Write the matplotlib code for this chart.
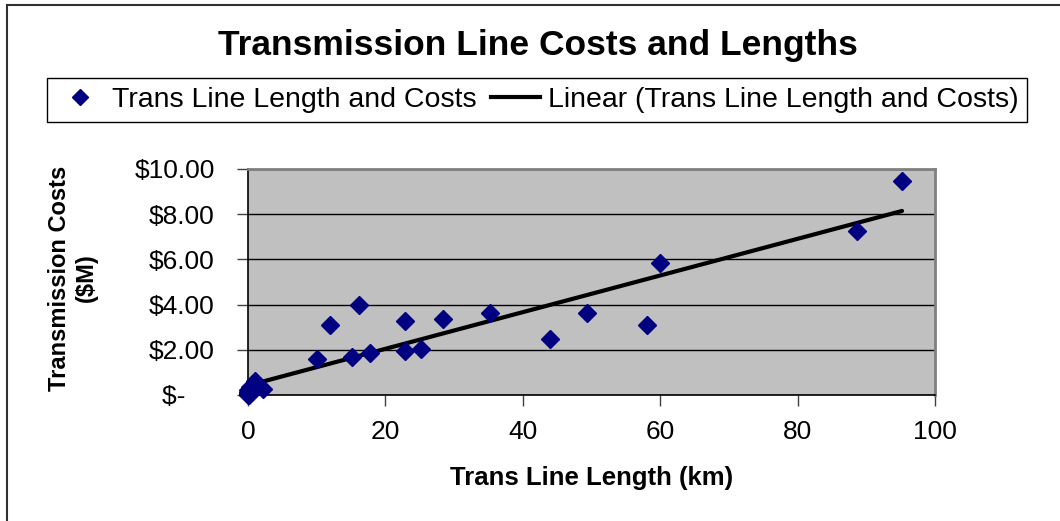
import matplotlib
matplotlib.use("Agg")
import matplotlib.pyplot as plt
from matplotlib.lines import Line2D
import numpy as np

plt.rcParams["font.family"] = ["Liberation Sans", "DejaVu Sans"]

# line length (km) vs cost ($M) (several short lines sit at the origin)
length_km = [0.0, 0.0, 0.1, 0.0, 0.2, 0.0, 0.0, 0.3, 1.0, 2.2, 10.0, 11.9, 15.2, 16.2,
             17.8, 22.9, 22.9, 25.2, 28.4, 35.2, 43.9, 49.4, 58.1, 60.0, 88.7, 95.2]
cost_musd = [0.0, 0.1, 0.05, 0.15, 0.0, 0.05, 0.2, 0.35, 0.6, 0.25, 1.58, 3.10, 1.70, 3.97,
             1.87, 3.26, 1.95, 2.04, 3.37, 3.63, 2.47, 3.63, 3.10, 5.83, 7.27, 9.48]

x_ticks = [0, 20, 40, 60, 80, 100]
y_ticks = [0, 2, 4, 6, 8, 10]
y_tick_labels = ["$-    ", "$2.00", "$4.00", "$6.00", "$8.00", "$10.00"]

W, H = 1060, 521
fig = plt.figure(figsize=(W / 100, H / 100), dpi=100)

ax = fig.add_axes([248 / W, 1 - 395 / H, (935 - 248) / W, (395 - 169) / H])
ax.set_facecolor("#C0C0C0")
ax.set_xlim(0, 100)
ax.set_ylim(0, 10)
ax.set_xticks(x_ticks)
ax.set_yticks(y_ticks)
ax.set_yticklabels(y_tick_labels)
ax.tick_params(axis="both", direction="out", length=8, width=1, colors="#404040",
               labelsize=19, labelcolor="black")
ax.tick_params(axis="x", pad=10)
ax.tick_params(axis="y", pad=16)
ax.grid(axis="y", color="black", linewidth=1)
ax.set_axisbelow(True)
for side in ("top", "right"):
    ax.spines[side].set_color("#808080")
    ax.spines[side].set_linewidth(2)
for side in ("left", "bottom"):
    ax.spines[side].set_color("black")
    ax.spines[side].set_linewidth(1.2)

# linear trendline
x = np.array(length_km)
y = np.array(cost_musd)
slope, intercept = np.polyfit(x, y, 1)
xs = np.array([x.min(), x.max()])
ax.plot(xs, slope * xs + intercept, color="black", linewidth=3, zorder=3,
        solid_capstyle="round")

ax.plot(x, y, linestyle="none", marker="D", markersize=9.5, color="#000080",
        zorder=4, clip_on=False)

ax.set_xlabel("Trans Line Length (km)", fontsize=18.5, fontweight="bold", labelpad=16)
ax.set_ylabel("Transmission Costs\n($M)", fontsize=17, fontweight="bold",
              linespacing=1.25)
ax.yaxis.set_label_coords((98 - 248) / 687, (395 - 278) / 226)

fig.text(538 / W, 1 - 45 / H, "Transmission Line Costs and Lengths", ha="center",
         va="center", fontsize=25.5, fontweight="bold")

# legend
handles = [
    Line2D([], [], linestyle="none", marker="D", markersize=8, color="#000080"),
    Line2D([], [], color="black", linewidth=3),
]
labels = ["Trans Line Length and Costs", "Linear (Trans Line Length and Costs)"]
leg = fig.legend(handles, labels, loc="center", bbox_to_anchor=(537 / W, 1 - 100 / H),
                 ncol=2, fontsize=20.5, frameon=True, fancybox=False, edgecolor="black",
                 framealpha=1, handlelength=1.7, handletextpad=0.3, columnspacing=0.5,
                 borderpad=0.3, borderaxespad=0)
leg.get_frame().set_linewidth(1)

# outer chart border (left and top only visible in the crop)
fig.add_artist(Line2D([7 / W, 7 / W], [0, 1 - 5 / H], color="#303030", linewidth=1.5,
                      transform=fig.transFigure))
fig.add_artist(Line2D([7 / W, 1], [1 - 5 / H, 1 - 5 / H], color="#303030",
                      linewidth=1.5, transform=fig.transFigure))

fig.savefig("out.png", dpi=100)
